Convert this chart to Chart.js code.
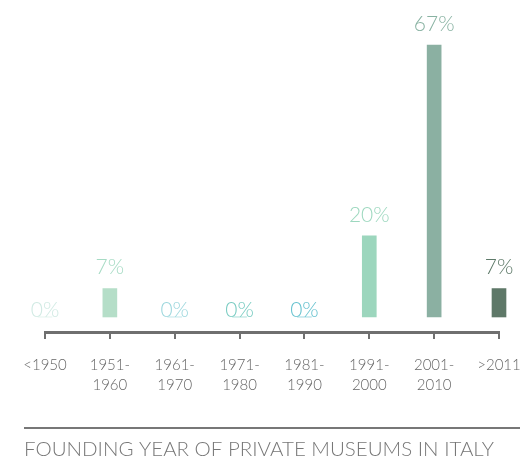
<!DOCTYPE html>
<html>
<head>
<meta charset="utf-8">
<script src="https://cdn.jsdelivr.net/npm/chart.js@4/dist/chart.umd.min.js"></script>
<style>
html,body{margin:0;padding:0;background:#fff;}
#wrap{width:520px;height:463px;position:relative;}
</style>
</head>
<body>
<div id="wrap"><canvas id="c" width="520" height="463"></canvas></div>
<script>
const categories = [["<1950"], ["1951-","1960"], ["1961-","1970"], ["1971-","1980"], ["1981-","1990"], ["1991-","2000"], ["2001-","2010"], [">2011"]];
const values = [0, 7, 0, 0, 0, 20, 67, 7];
const valueLabels = ["0%", "7%", "0%", "0%", "0%", "20%", "67%", "7%"];
const barColors = ["#d5ede6", "#b5dec8", "#a3dadf", "#80cfc4", "#6ec6d2", "#9cd6bd", "#8bb0a2", "#5e7868"];
const labelColors = ["#d0eae3", "#a6dbc4", "#9cd7dd", "#78cbc1", "#66c2cf", "#9dd8bf", "#88b2a2", "#5e7a69"];
const chartTitle = "FOUNDING YEAR OF PRIVATE MUSEUMS IN ITALY";

const FONT = "Lato";

const labelPlugin = {
  id: 'valueLabels',
  afterDatasetsDraw(chart) {
    const ctx = chart.ctx;
    const meta = chart.getDatasetMeta(0);
    ctx.save();
    ctx.font = "300 21px " + FONT;
    ctx.textAlign = "center";
    ctx.textBaseline = "middle";
    meta.data.forEach((el, i) => {
      const v = values[i];
      const y = v === 0 ? el.y - 7 : el.y - 21;
      ctx.fillStyle = labelColors[i];
      ctx.fillText(valueLabels[i], el.x, y);
    });
    ctx.restore();
  }
};

const titlePlugin = {
  id: 'bottomTitle',
  afterDraw(chart) {
    const ctx = chart.ctx;
    ctx.save();
    ctx.strokeStyle = "#777777";
    ctx.lineWidth = 2;
    ctx.beginPath();
    ctx.moveTo(24, 428);
    ctx.lineTo(520, 428);
    ctx.stroke();
    ctx.fillStyle = "#777777";
    ctx.font = "300 20.5px " + FONT;
    ctx.textAlign = "left";
    ctx.textBaseline = "middle";
    ctx.fillText(chartTitle, 24, 449);
    ctx.restore();
  }
};

new Chart(document.getElementById('c'), {
  type: 'bar',
  data: {
    labels: categories,
    datasets: [{
      data: values,
      backgroundColor: barColors,
      borderWidth: 0,
      barThickness: 14,
      clip: false
    }]
  },
  options: {
    responsive: false,
    animation: false,
    layout: { autoPadding: false, padding: { left: 45, right: 21, top: 0, bottom: 71 } },
    plugins: { legend: { display: false }, tooltip: { enabled: false }, title: { display: false } },
    scales: {
      x: {
        offset: false,
        afterFit(scale) { scale.height = 60; scale.paddingLeft = 0; scale.paddingRight = 0; },
        grid: {
          display: true,
          offset: false,
          drawOnChartArea: false,
          drawTicks: true,
          tickLength: 7,
          color: "#6f6f6f",
          lineWidth: 2
        },
        border: { display: true, color: "#6f6f6f", width: 3 },
        ticks: {
          color: "#666666",
          font: { family: FONT, size: 15, weight: 300, lineHeight: 1.35 },
          padding: 16,
          maxRotation: 0,
          autoSkip: false
        }
      },
      y: {
        display: false,
        min: -3.7,
        max: 78.1
      }
    }
  },
  plugins: [labelPlugin, titlePlugin]
});
</script>
</body>
</html>
